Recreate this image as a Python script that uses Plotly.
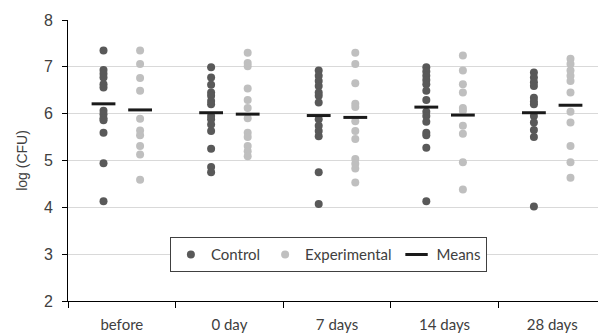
import plotly.graph_objects as go

categories = ["before", "0 day", "7 days", "14 days", "28 days"]

control = [
    [7.35, 6.93, 6.85, 6.77, 6.63, 6.56, 6.06, 5.99, 5.90, 5.86, 5.59, 4.94, 4.13],
    [6.99, 6.77, 6.62, 6.45, 6.38, 6.27, 6.20, 5.95, 5.88, 5.77, 5.63, 5.25, 4.86, 4.75],
    [6.92, 6.81, 6.70, 6.59, 6.45, 6.38, 6.24, 5.88, 5.74, 5.63, 5.52, 4.75, 4.07],
    [6.99, 6.90, 6.81, 6.72, 6.63, 6.49, 6.29, 6.04, 5.95, 5.83, 5.59, 5.54, 5.27, 4.13],
    [6.88, 6.77, 6.67, 6.59, 6.34, 6.26, 6.20, 5.95, 5.81, 5.65, 5.50, 4.02],
]
experimental = [
    [7.35, 7.06, 6.76, 6.49, 5.89, 5.64, 5.54, 5.31, 5.13, 4.59],
    [7.30, 7.08, 7.01, 6.54, 6.29, 6.12, 5.90, 5.59, 5.50, 5.31, 5.20, 5.09],
    [7.30, 7.06, 6.65, 6.21, 6.14, 5.84, 5.63, 5.46, 5.03, 4.93, 4.83, 4.53],
    [7.24, 6.92, 6.63, 6.45, 6.12, 6.06, 5.74, 5.57, 4.96, 4.38],
    [7.17, 7.06, 6.92, 6.81, 6.70, 6.45, 6.04, 5.81, 5.31, 4.96, 4.63],
]
control_means = [6.21, 6.02, 5.96, 6.14, 6.02]
experimental_means = [6.08, 5.99, 5.92, 5.97, 6.18]

OFF = 0.17
C_DARK = "#595959"
C_LIGHT = "#bfbfbf"

cx, cy, ex, ey = [], [], [], []
for i in range(len(categories)):
    cx += [i - OFF] * len(control[i]); cy += control[i]
    ex += [i + OFF] * len(experimental[i]); ey += experimental[i]

mx = [i - OFF for i in range(len(categories))] + [i + OFF for i in range(len(categories))]
my = control_means + experimental_means

fig = go.Figure()
fig.add_trace(go.Scatter(x=cx, y=cy, mode="markers", name="Control",
                         marker=dict(color=C_DARK, size=8)))
fig.add_trace(go.Scatter(x=ex, y=ey, mode="markers", name="Experimental",
                         marker=dict(color=C_LIGHT, size=8)))
fig.add_trace(go.Scatter(x=mx, y=my, mode="markers", name="Means",
                         marker=dict(symbol="line-ew", size=17,
                                     line=dict(color="#1a1a1a", width=3))))

SANS = "Liberation Sans, Arial, sans-serif"
GEO = "Lato, Liberation Sans, sans-serif"

fig.update_layout(
    width=598, height=325,
    margin=dict(l=60, r=0, t=12, b=32),
    paper_bgcolor="white", plot_bgcolor="white",
    font=dict(family=GEO, color="#404040", size=13),
    showlegend=True,
    legend=dict(orientation="h", x=0.484, y=0.165, xanchor="center", yanchor="middle",
                bgcolor="white", bordercolor="#404040", borderwidth=1,
                font=dict(size=15, color="#404040", family=GEO), itemwidth=30,
                tracegroupgap=0),
    xaxis=dict(range=[-0.5, 4.5], tickmode="array",
               tickvals=list(range(len(categories))), ticktext=categories,
               ticks="outside", ticklen=10, tickcolor="rgba(0,0,0,0)",
               showgrid=False, zeroline=False,
               showline=True, linecolor="#000000", linewidth=1,
               minor=dict(tick0=0.5, dtick=1, ticks="outside", ticklen=6,
                          tickcolor="#000000", showgrid=False),
               tickfont=dict(size=15, family=GEO)),
    yaxis=dict(range=[2, 8], dtick=1, tick0=2, ticks="outside", ticklen=5,
               ticklabelstandoff=6,
               tickcolor="#000000", showline=True, linecolor="#000000", linewidth=1,
               showgrid=True, gridcolor="#d9d9d9", gridwidth=1, zeroline=False,
               title=dict(text="log (CFU)", font=dict(size=14, family=SANS), standoff=12),
               tickfont=dict(size=16, family=SANS)),
)

fig.write_html("out.html")
